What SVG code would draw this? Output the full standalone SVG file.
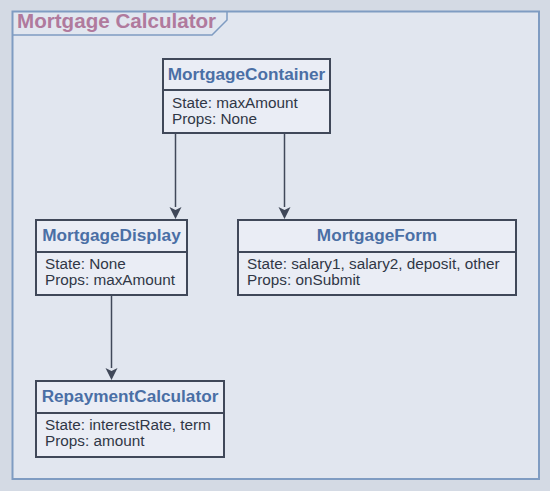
<svg xmlns="http://www.w3.org/2000/svg" width="550" height="491" viewBox="0 0 550 491">
<style>
.box{fill:#eaedf5;stroke:#404859;stroke-width:2}
.div{stroke:#404859;stroke-width:2}
.ttl{font-family:"Liberation Sans",Arial,sans-serif;font-weight:bold;font-size:17.2px;fill:#4a6fa5;text-anchor:middle}
.bd{font-family:"Liberation Sans",Arial,sans-serif;font-size:15.3px;fill:#303746}
.edge{stroke:#404859;stroke-width:1.5;fill:none}
.ah{fill:#404859}
</style>
<rect x="0" y="0" width="550" height="491" fill="#d4dae4"/>
<g id="frame">
<rect x="12.5" y="11.5" width="526.5" height="467.5" fill="#e1e6ef" stroke="#7f9cc2" stroke-width="2"/>
<path d="M12.5,35 L212,35 L227,20 L227,11.5" fill="none" stroke="#7f9cc2" stroke-width="1.5"/>
<text x="17" y="27.5" font-family="'Liberation Sans',Arial,sans-serif" font-weight="bold" font-size="20.6" fill="#b07a9d">Mortgage Calculator</text>
</g>
<g id="connectors">
<line class="edge" x1="175.5" y1="133" x2="175.5" y2="207"/>
<path class="ah" d="M169.5,207 L175.5,210 L181.5,207 L175.5,219 Z"/>
<line class="edge" x1="284.5" y1="133" x2="284.5" y2="207"/>
<path class="ah" d="M278.5,207 L284.5,210 L290.5,207 L284.5,219 Z"/>
<line class="edge" x1="111.5" y1="295" x2="111.5" y2="368"/>
<path class="ah" d="M105.5,368 L111.5,371 L117.5,368 L111.5,380 Z"/>
</g>
<g id="MortgageContainer">
<rect class="box" x="163" y="59" width="167" height="74"/>
<line class="div" x1="163" y1="90" x2="330" y2="90"/>
<text class="ttl" x="246.5" y="79.5">MortgageContainer</text>
<text class="bd" x="172" y="107.5">State: maxAmount</text>
<text class="bd" x="172" y="124">Props: None</text>
</g>
<g id="MortgageDisplay">
<rect class="box" x="36" y="220" width="151" height="75"/>
<line class="div" x1="36" y1="252" x2="187" y2="252"/>
<text class="ttl" x="111.5" y="240.5">MortgageDisplay</text>
<text class="bd" x="45" y="268.5">State: None</text>
<text class="bd" x="45" y="285">Props: maxAmount</text>
</g>
<g id="MortgageForm">
<rect class="box" x="238" y="220" width="278" height="75"/>
<line class="div" x1="238" y1="252" x2="516" y2="252"/>
<text class="ttl" x="377" y="240.5">MortgageForm</text>
<text class="bd" x="247" y="268.5">State: salary1, salary2, deposit, other</text>
<text class="bd" x="247" y="285">Props: onSubmit</text>
</g>
<g id="RepaymentCalculator">
<rect class="box" x="36" y="381" width="188" height="76"/>
<line class="div" x1="36" y1="413" x2="224" y2="413"/>
<text class="ttl" x="130" y="401.5">RepaymentCalculator</text>
<text class="bd" x="45" y="429.5">State: interestRate, term</text>
<text class="bd" x="45" y="446">Props: amount</text>
</g>
</svg>
